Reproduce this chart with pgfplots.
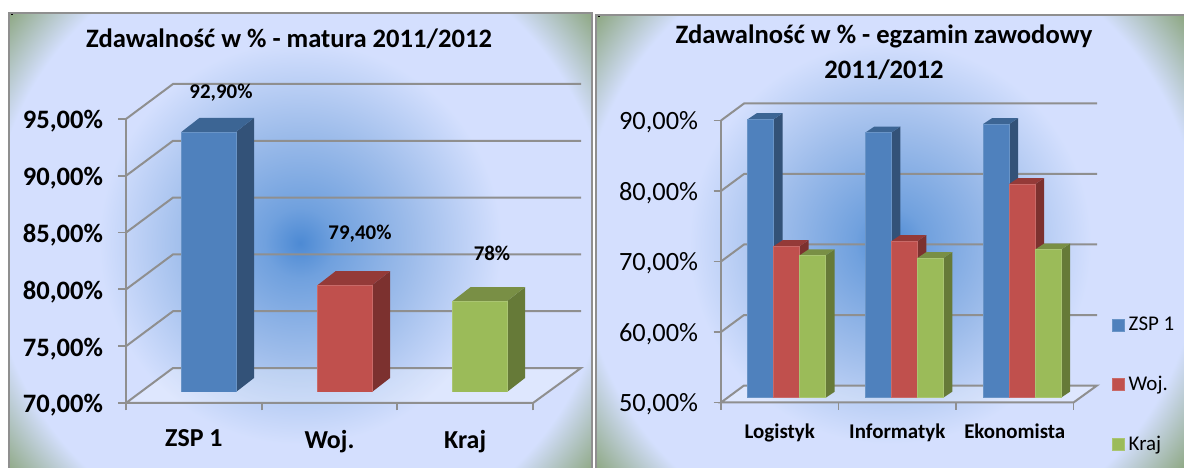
\documentclass[border=0pt]{standalone}
\usepackage{pgfplots}
\pgfplotsset{compat=1.18}
\usepackage{fontspec}
\setmainfont{Carlito}
\definecolor{gridg}{HTML}{8F8F8F}
\definecolor{bluef}{HTML}{4F81BD}
\definecolor{blues}{HTML}{335278}
\definecolor{bluet}{HTML}{3C6594}
\definecolor{redf}{HTML}{C0504D}
\definecolor{reds}{HTML}{7C312F}
\definecolor{redt}{HTML}{943A38}
\definecolor{greenf}{HTML}{9BBB59}
\definecolor{greens}{HTML}{667A38}
\definecolor{greent}{HTML}{798F45}
\pgfdeclareradialshading{panel}{\pgfpoint{0bp}{0bp}}{rgb(0bp)=(0.30,0.54,0.83);rgb(2.35bp)=(0.44,0.63,0.87);rgb(7.6bp)=(0.62,0.74,0.92);rgb(13.5bp)=(0.83,0.875,0.995);rgb(20.8bp)=(0.83,0.875,0.995);rgb(24.9bp)=(0.56,0.66,0.52);rgb(50bp)=(0.56,0.66,0.52)}
\newcommand{\fs}[1]{\fontsize{#1}{#1}\selectfont}
\pgfplotsset{
  gl/.style={draw=gridg,line width=2bp,forget plot},
  frame/.style={x=1bp,anchor=south west,clip=false,axis line style={draw=none},
    tick style={draw=gridg,line width=1.8bp},major tick length=7.5bp,tick align=outside,
    xtick pos=bottom,ytick pos=left,x tick label as interval=true,
    xticklabel style={anchor=north}},
  bars/.style={x=1bp,anchor=south west,hide axis,clip=true},
  front/.style={ybar,bar shift=0pt,fill=#1,draw=#1!85!white,line width=0.5bp},
}
\begin{document}
\begin{tikzpicture}[x=1bp,y=1bp]
\useasboundingbox (0,0) rectangle (1184,468);
\fill[white] (0,0) rectangle (1184,468);
\begin{scope}
\clip (9,0) rectangle (592,455);
\shade[shading=panel] (300,225) circle (372);
\end{scope}
\begin{scope}
\clip (596,0) rectangle (1184,453);
\shade[shading=panel] (890,225) circle (372);
\end{scope}
% ---------- left chart frame
\begin{axis}[frame,at={(126bp,65bp)},y=11.36bp,xmin=126,xmax=581,ymin=70,ymax=98.08,
  ytick={70,75,80,85,90,95},
  yticklabels={{70,00\%},{75,00\%},{80,00\%},{85,00\%},{90,00\%},{95,00\%}},
  yticklabel style={font=\bfseries\fs{26.7},xshift=-12bp,yshift=-2.5bp},
  xtick={126,261.67,397.33,533},
  xticklabels={ZSP 1,Woj.,Kraj},
  xticklabel style={font=\bfseries\fs{26},yshift=-16bp}]
\addplot[gl,fill=white,fill opacity=0.25] coordinates {(126,70)(173,73.08)(581,73.08)(533,70)} --cycle;
\addplot[gl] coordinates {(126,70)(126,95)};
\addplot[gl] coordinates {(126,75)(173,78.08)(581,78.08)};
\addplot[gl] coordinates {(126,80)(173,83.08)(581,83.08)};
\addplot[gl] coordinates {(126,85)(173,88.08)(581,88.08)};
\addplot[gl] coordinates {(126,90)(173,93.08)(581,93.08)};
\addplot[gl] coordinates {(126,95)(173,98.08)(581,98.08)};
\end{axis}
% ---------- left chart bars
\begin{axis}[bars,at={(126bp,76bp)},y=11.36bp,xmin=126,xmax=581,ymin=70,ymax=100,bar width=54.5bp]
\addplot[fill=blues,draw=none,forget plot] coordinates {(236,70)(254,71.23)(254,94.13)(236,92.9)} --cycle;
\addplot[fill=bluet,draw=none,forget plot] coordinates {(181.5,92.9)(199.5,94.13)(254,94.13)(236,92.9)} --cycle;
\addplot[front=bluef] coordinates {(208.75,92.9)};
\addplot[fill=reds,draw=none,forget plot] coordinates {(372,70)(390,71.23)(390,80.63)(372,79.4)} --cycle;
\addplot[fill=redt,draw=none,forget plot] coordinates {(317.5,79.4)(335.5,80.63)(390,80.63)(372,79.4)} --cycle;
\addplot[front=redf] coordinates {(344.75,79.4)};
\addplot[fill=greens,draw=none,forget plot] coordinates {(507,70)(525,71.23)(525,79.23)(507,78)} --cycle;
\addplot[fill=greent,draw=none,forget plot] coordinates {(452.5,78)(470.5,79.23)(525,79.23)(507,78)} --cycle;
\addplot[front=greenf] coordinates {(479.75,78)};
\end{axis}
% ---------- right chart frame
\begin{axis}[frame,at={(721bp,65.5bp)},y=7.05bp,xmin=721,xmax=1097,ymin=50,ymax=92.41,
  ytick={50,60,70,80,90},
  yticklabels={{50,00\%},{60,00\%},{70,00\%},{80,00\%},{90,00\%}},
  yticklabel style={font=\fs{26.5},xshift=-12bp,yshift=-2bp},
  xtick={721,838.5,956,1073.5},
  xticklabels={Logistyk,Informatyk,Ekonomista},
  xticklabel style={font=\bfseries\fs{21},yshift=-10bp}]
\addplot[gl,fill=white,fill opacity=0.25] coordinates {(721,50)(744,52.41)(1097,52.41)(1073.5,50)} --cycle;
\addplot[gl] coordinates {(721,50)(721,90)};
\addplot[gl] coordinates {(721,60)(744,62.41)(1097,62.41)};
\addplot[gl] coordinates {(721,70)(744,72.41)(1097,72.41)};
\addplot[gl] coordinates {(721,80)(744,82.41)(1097,82.41)};
\addplot[gl] coordinates {(721,90)(744,92.41)(1097,92.41)};
\end{axis}
% ---------- right chart bars
\begin{axis}[bars,at={(721bp,70.3bp)},y=7.05bp,xmin=721,xmax=1097,ymin=50,ymax=95,bar width=26bp,
  legend style={at={(1.032,-0.185)},anchor=south west,draw=none,fill=none,row sep=40bp,
    font=\fs{21},legend cell align=left,/tikz/every odd column/.append style={column sep=2bp}},
  legend image code/.code={\fill[#1] (0bp,-6bp) rectangle (12bp,6bp);}]
\addplot[fill=blues,draw=none,forget plot] coordinates {(773.7,50)(782.7,50.85)(782.7,90.35)(773.7,89.5)} --cycle;
\addplot[fill=bluet,draw=none,forget plot] coordinates {(747.7,89.5)(756.7,90.35)(782.7,90.35)(773.7,89.5)} --cycle;
\addplot[fill=blues,draw=none,forget plot] coordinates {(891.3,50)(900.3,50.85)(900.3,88.45)(891.3,87.6)} --cycle;
\addplot[fill=bluet,draw=none,forget plot] coordinates {(865.3,87.6)(874.3,88.45)(900.3,88.45)(891.3,87.6)} --cycle;
\addplot[fill=blues,draw=none,forget plot] coordinates {(1009,50)(1018,50.85)(1018,89.65)(1009,88.8)} --cycle;
\addplot[fill=bluet,draw=none,forget plot] coordinates {(983,88.8)(992,89.65)(1018,89.65)(1009,88.8)} --cycle;
\addplot[front=bluef] coordinates {(760.7,89.5)(878.3,87.6)(996,88.8)};
\addlegendentry{ZSP 1}
\addplot[fill=reds,draw=none,forget plot] coordinates {(799.7,50)(808.7,50.85)(808.7,72.35)(799.7,71.5)} --cycle;
\addplot[fill=redt,draw=none,forget plot] coordinates {(773.7,71.5)(782.7,72.35)(808.7,72.35)(799.7,71.5)} --cycle;
\addplot[fill=reds,draw=none,forget plot] coordinates {(917.3,50)(926.3,50.85)(926.3,73.05)(917.3,72.2)} --cycle;
\addplot[fill=redt,draw=none,forget plot] coordinates {(891.3,72.2)(900.3,73.05)(926.3,73.05)(917.3,72.2)} --cycle;
\addplot[fill=reds,draw=none,forget plot] coordinates {(1035,50)(1044,50.85)(1044,81.15)(1035,80.3)} --cycle;
\addplot[fill=redt,draw=none,forget plot] coordinates {(1009,80.3)(1018,81.15)(1044,81.15)(1035,80.3)} --cycle;
\addplot[front=redf] coordinates {(786.7,71.5)(904.3,72.2)(1022,80.3)};
\addlegendentry{Woj.}
\addplot[fill=greens,draw=none,forget plot] coordinates {(825.7,50)(834.7,50.85)(834.7,71.05)(825.7,70.2)} --cycle;
\addplot[fill=greent,draw=none,forget plot] coordinates {(799.7,70.2)(808.7,71.05)(834.7,71.05)(825.7,70.2)} --cycle;
\addplot[fill=greens,draw=none,forget plot] coordinates {(943.3,50)(952.3,50.85)(952.3,70.65)(943.3,69.8)} --cycle;
\addplot[fill=greent,draw=none,forget plot] coordinates {(917.3,69.8)(926.3,70.65)(952.3,70.65)(943.3,69.8)} --cycle;
\addplot[fill=greens,draw=none,forget plot] coordinates {(1061,50)(1070,50.85)(1070,71.85)(1061,71)} --cycle;
\addplot[fill=greent,draw=none,forget plot] coordinates {(1035,71)(1044,71.85)(1070,71.85)(1061,71)} --cycle;
\addplot[front=greenf] coordinates {(812.7,70.2)(930.3,69.8)(1048,71)};
\addlegendentry{Kraj}
\end{axis}
% ---------- texts
\node[font=\bfseries\fs{26.7}] at (289,429) {Zdawalność w \% - matura 2011/2012};
\node[font=\bfseries\fs{26.7}] at (884,431.5) {Zdawalność w \% - egzamin zawodowy};
\node[font=\bfseries\fs{26.7}] at (884,398) {2011/2012};
\node[font=\bfseries\fs{21}] at (221,375.5) {92,90\%};
\node[font=\bfseries\fs{21}] at (360,234) {79,40\%};
\node[font=\bfseries\fs{21}] at (492,214.5) {78\%};
% ---------- panel borders
\draw[gridg,line width=2bp] (9,0) -- (9,455) -- (592,455) -- (592,0);
\draw[gridg,line width=2bp] (596,0) -- (596,453) -- (1184,453);
\fill[black] (10.5,453) rectangle (13,453.8);
\fill[black] (598,451) rectangle (600,451.8);
\end{tikzpicture}
\end{document}
